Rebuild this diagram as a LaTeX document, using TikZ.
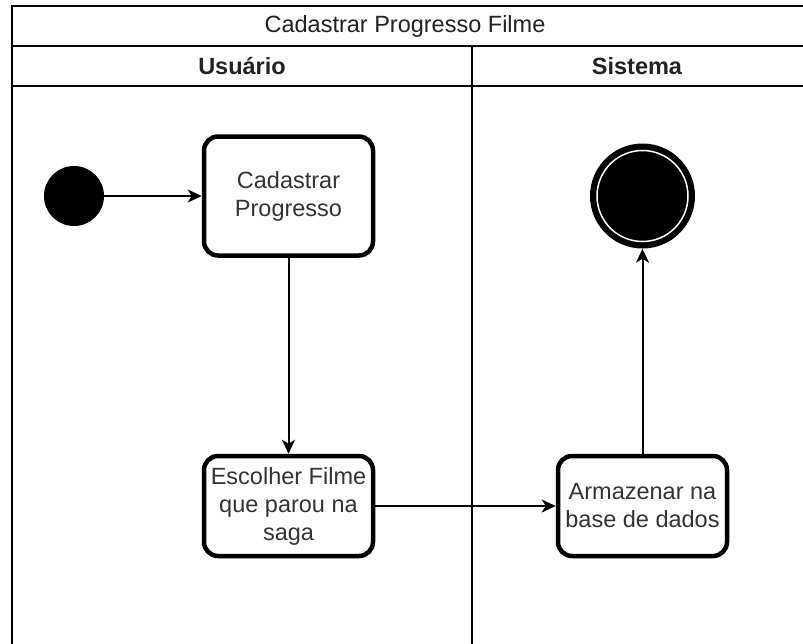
\documentclass[tikz,border=0pt]{standalone}
\usepackage{fontspec}
\setmainfont{Liberation Sans}
\usetikzlibrary{arrows.meta}
\definecolor{txt}{HTML}{333333}
\definecolor{hdrtxt}{HTML}{222222}
\begin{document}
\begin{tikzpicture}[x=1pt,y=-1pt,
  lane/.style={line width=2pt},
  act/.style={draw, line width=4.5pt, rounded corners=14pt, fill=white,
    minimum width=169pt, align=center, text=txt, inner sep=0pt,
    font=\fontsize{23.5}{28}\selectfont},
  arr/.style={line width=2pt, -{Stealth[length=14pt,width=13pt,inset=4pt]}},
  hdr/.style={font=\fontsize{23.5}{28}\selectfont, text=hdrtxt},
  lanehdr/.style={font=\fontsize{23.5}{28}\selectfont\bfseries, text=hdrtxt}]
\useasboundingbox (0,0) rectangle (803,643);
% pool and lanes
\draw[lane] (12,700) -- (12,6) -- (815,6);
\draw[lane] (12,46) -- (815,46);
\draw[lane] (12,86) -- (815,86);
\draw[lane] (472,46) -- (472,700);
\node[hdr] (title) at (405,26) {Cadastrar Progresso Filme};
\node[lanehdr] (usu) at (242,66) {Usuário};
\node[lanehdr] (sis) at (637,66) {Sistema};
% nodes
\node[circle, fill=black, draw=black, line width=1pt, minimum size=59pt, inner sep=0pt] (start) at (74,196) {};
\node[act, minimum height=119pt] (cad) at (288.5,196) {Cadastrar\\Progresso};
\node[act, minimum height=100pt] (esc) at (288.5,506) {Escolher Filme\\que parou na\\saga};
\node[act, minimum height=100pt] (arm) at (642.5,506) {Armazenar na\\base de dados};
\node[circle, fill=black, minimum size=105pt, inner sep=0pt] (fin) at (642.5,196) {};
\draw[white, line width=1.5pt] (fin.center) circle[radius=45.5];
% connectors
\draw[arr] (start) -- (cad);
\draw[arr] (cad) -- (esc);
\draw[arr] (esc) -- (arm);
\draw[arr] (arm) -- (fin);
\end{tikzpicture}
\end{document}
